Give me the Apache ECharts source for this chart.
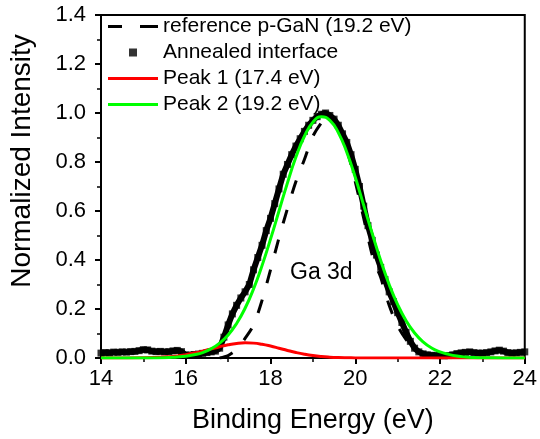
<!DOCTYPE html>
<html>
<head>
<meta charset="utf-8">
<script src="https://cdn.jsdelivr.net/npm/echarts@6/dist/echarts.min.js"></script>
<style>
  html, body { margin: 0; padding: 0; background: #fff; }
  #chart { width: 540px; height: 439px; }
</style>
</head>
<body>
<div id="chart"></div>
<script>
// Ga 3d core-level spectrum: measured trace plus two fitted components

const FONT = 'Liberation Sans, Arial, sans-serif';

const seriesNames = [
  'reference p-GaN (19.2 eV)',
  'Annealed interface',
  'Peak 1 (17.4 eV)',
  'Peak 2 (19.2 eV)'
];

// Annealed interface (measured), binding energy in eV
const annealedEnergy = [
  14.0, 14.1, 14.2, 14.3, 14.4, 14.5, 14.6, 14.7, 14.8, 14.9,
  15.0, 15.1, 15.2, 15.3, 15.4, 15.5, 15.6, 15.7, 15.8, 15.9,
  16.0, 16.1, 16.2, 16.3, 16.4, 16.5, 16.6, 16.7, 16.8, 16.9,
  17.0, 17.1, 17.2, 17.3, 17.4, 17.5, 17.6, 17.7, 17.8, 17.9,
  18.0, 18.1, 18.2, 18.3, 18.4, 18.5, 18.6, 18.7, 18.8, 18.9,
  19.0, 19.1, 19.2, 19.3, 19.4, 19.5, 19.6, 19.7, 19.8, 19.9,
  20.0, 20.1, 20.2, 20.3, 20.4, 20.5, 20.6, 20.7, 20.8, 20.9,
  21.0, 21.1, 21.2, 21.3, 21.4, 21.5, 21.6, 21.7, 21.8, 21.9,
  22.0, 22.1, 22.2, 22.3, 22.4, 22.5, 22.6, 22.7, 22.8, 22.9,
  23.0, 23.1, 23.2, 23.3, 23.4, 23.5, 23.6, 23.7, 23.8, 23.9,
  24.0
];
const annealedIntensity = [
  0.020, 0.022, 0.021, 0.024, 0.023, 0.025, 0.024, 0.026, 0.027, 0.030,
  0.034, 0.033, 0.028, 0.026, 0.027, 0.025, 0.026, 0.029, 0.031, 0.026,
  0.012, 0.012, 0.014, 0.016, 0.019, 0.022, 0.025, 0.028, 0.040, 0.085,
  0.135, 0.180, 0.215, 0.245, 0.270, 0.300, 0.360, 0.410, 0.460, 0.520,
  0.570, 0.630, 0.690, 0.750, 0.790, 0.830, 0.865, 0.895, 0.925, 0.950,
  0.970, 0.985, 0.995, 1.000, 0.990, 0.975, 0.950, 0.915, 0.880, 0.830,
  0.770, 0.700, 0.620, 0.540, 0.480, 0.420, 0.370, 0.320, 0.270, 0.230,
  0.185, 0.145, 0.105, 0.068, 0.040, 0.025, 0.017, 0.013, 0.011, 0.010,
  0.010, 0.009, 0.010, 0.013, 0.018, 0.021, 0.023, 0.025, 0.022, 0.020,
  0.020, 0.022, 0.025, 0.029, 0.032, 0.028, 0.022, 0.020, 0.021, 0.023,
  0.025
];

// Reference p-GaN trace
const referenceEnergy = [
  16.8, 17.0, 17.2, 17.4, 17.6, 17.8, 18.0, 18.2, 18.4, 18.6,
  18.8, 19.0, 19.2, 19.3, 19.4, 19.6, 19.8, 20.0, 20.2, 20.4,
  20.5, 20.6, 20.7, 20.8, 20.9, 21.0, 21.2, 21.4, 21.6, 21.8,
  22.0
];
const referenceIntensity = [
  0.000, 0.010, 0.035, 0.080, 0.135, 0.235, 0.360, 0.490, 0.610, 0.720,
  0.810, 0.905, 0.960, 0.975, 0.975, 0.930, 0.850, 0.720, 0.570, 0.420,
  0.370, 0.330, 0.270, 0.215, 0.170, 0.130, 0.075, 0.035, 0.012, 0.003,
  0.000
];

// Fitted components
const peakEnergy = [
  14.0, 14.5, 15.0, 15.5, 15.8, 16.0, 16.2, 16.4, 16.6, 16.8,
  17.0, 17.2, 17.4, 17.6, 17.8, 18.0, 18.2, 18.4, 18.6, 18.8,
  19.0, 19.2, 19.4, 19.6, 19.8, 20.0, 20.2, 20.4, 20.6, 20.8,
  21.0, 21.2, 21.4, 21.6, 21.8, 22.0, 22.2, 22.4, 22.6, 22.8,
  23.0, 23.5, 24.0
];
const peak1Intensity = [
  0.000, 0.0001, 0.0008, 0.0039, 0.0086, 0.0136, 0.0201, 0.0282, 0.0372, 0.0462,
  0.054, 0.0596, 0.062, 0.0607, 0.056, 0.0487, 0.0399, 0.0308, 0.0224, 0.0154,
  0.0099, 0.006, 0.0035, 0.0019, 0.001, 0.0005, 0.0002, 0.0001, 0.000, 0.000,
  0.000, 0.000, 0.000, 0.000, 0.000, 0.000, 0.000, 0.000, 0.000, 0.000,
  0.000, 0.000, 0.000
];
const peak2Intensity = [
  0.000, 0.000, 0.0001, 0.001, 0.004, 0.007, 0.013, 0.022, 0.038, 0.061,
  0.094, 0.141, 0.203, 0.282, 0.377, 0.485, 0.600, 0.715, 0.820, 0.905,
  0.962, 0.985, 0.970, 0.920, 0.840, 0.738, 0.623, 0.508, 0.398, 0.300,
  0.218, 0.152, 0.102, 0.066, 0.041, 0.025, 0.015, 0.008, 0.004, 0.002,
  0.001, 0.000, 0.000
];

// Axis tick values
const xTicks = [14, 16, 18, 20, 22, 24];
const yTicks = [0.0, 0.2, 0.4, 0.6, 0.8, 1.0, 1.2, 1.4];

function pairs(xs, ys) {
  return xs.map((x, i) => [x, ys[i]]);
}

// Legend glyphs inside a 50x14 box (zero-length corner moves fix the box size)
const BOX = 'M0,0L0,0M50,14L50,14';
const ICON_SOLID = 'path://' + BOX + 'M0,5.5h50v3h-50z';
const ICON_DASHED = 'path://' + BOX + 'M0,5.5h14v3h-14zM32,5.5h18v3h-18z';
const ICON_SQUARE = 'path://' + BOX + 'M21,3h8v8h-8z';

const chart = echarts.init(document.getElementById('chart'), null, { renderer: 'canvas' });

const axisCommon = {
  axisLine: { show: true, lineStyle: { color: '#000', width: 2 } },
  axisTick: { show: true, inside: false, length: 6, lineStyle: { color: '#000', width: 2 } },
  minorTick: { show: true, splitNumber: 2, length: 4, lineStyle: { color: '#000', width: 1.5 } },
  splitLine: { show: false },
  minorSplitLine: { show: false }
};

chart.setOption({
  animation: false,
  backgroundColor: '#fff',
  grid: {
    left: 101, right: 13, top: 15, bottom: 80.5,
    show: true, borderColor: '#000', borderWidth: 2, backgroundColor: 'transparent'
  },
  xAxis: Object.assign({
    type: 'value',
    min: xTicks[0],
    max: xTicks[xTicks.length - 1],
    interval: xTicks[1] - xTicks[0],
    name: 'Binding Energy (eV)',
    nameLocation: 'middle',
    nameGap: 49,
    nameTextStyle: { fontSize: 27, color: '#000', fontFamily: FONT },
    axisLabel: { fontSize: 22, color: '#000', fontFamily: FONT, margin: 10 }
  }, axisCommon),
  yAxis: Object.assign({
    type: 'value',
    min: yTicks[0],
    max: yTicks[yTicks.length - 1],
    interval: 0.2,
    axisLabel: {
      fontSize: 22, color: '#000', fontFamily: FONT, margin: 15,
      formatter: v => v.toFixed(1)
    }
  }, axisCommon),
  legend: {
    orient: 'vertical',
    left: 108,
    top: 16,
    padding: 0,
    itemWidth: 50,
    itemHeight: 14,
    itemGap: 5,
    selectedMode: false,
    itemStyle: { borderWidth: 0 },
    textStyle: { fontSize: 21, color: '#000', fontFamily: FONT, lineHeight: 21 },
    data: [
      { name: seriesNames[0], icon: ICON_DASHED },
      { name: seriesNames[1], icon: ICON_SQUARE },
      { name: seriesNames[2], icon: ICON_SOLID },
      { name: seriesNames[3], icon: ICON_SOLID }
    ]
  },
  graphic: [
    {
      type: 'text',
      left: 290,
      top: 261,
      style: { text: 'Ga 3d', font: '23px ' + FONT, fill: '#000' },
      silent: true
    },
    {
      type: 'text',
      x: 22,
      y: 161,
      rotation: Math.PI / 2,
      style: {
        text: 'Normalized Intensity',
        font: '28px ' + FONT,
        fill: '#000',
        align: 'center',
        verticalAlign: 'middle'
      },
      silent: true
    }
  ],
  series: [
    {
      // continuous trace joining the measured points
      name: 'annealed-trace',
      type: 'line',
      data: pairs(annealedEnergy, annealedIntensity),
      showSymbol: false,
      symbol: 'none',
      lineStyle: { color: '#000', width: 6 },
      z: 2
    },
    {
      name: seriesNames[1],
      type: 'scatter',
      data: pairs(annealedEnergy, annealedIntensity),
      symbol: 'rect',
      symbolSize: 7,
      itemStyle: { color: '#000' },
      z: 2
    },
    {
      name: seriesNames[0],
      type: 'line',
      data: pairs(referenceEnergy, referenceIntensity),
      symbol: 'none',
      showSymbol: false,
      smooth: 0.3,
      lineStyle: { color: '#000', width: 3, type: [14, 17] },
      itemStyle: { color: '#000' },
      z: 3
    },
    {
      name: seriesNames[2],
      type: 'line',
      data: pairs(peakEnergy, peak1Intensity),
      symbol: 'none',
      showSymbol: false,
      smooth: true,
      lineStyle: { color: '#ff0000', width: 3 },
      itemStyle: { color: '#ff0000' },
      z: 4
    },
    {
      name: seriesNames[3],
      type: 'line',
      data: pairs(peakEnergy, peak2Intensity),
      symbol: 'none',
      showSymbol: false,
      smooth: true,
      lineStyle: { color: '#00ff00', width: 3 },
      itemStyle: { color: '#00ff00' },
      z: 5
    }
  ]
});
</script>
</body>
</html>
